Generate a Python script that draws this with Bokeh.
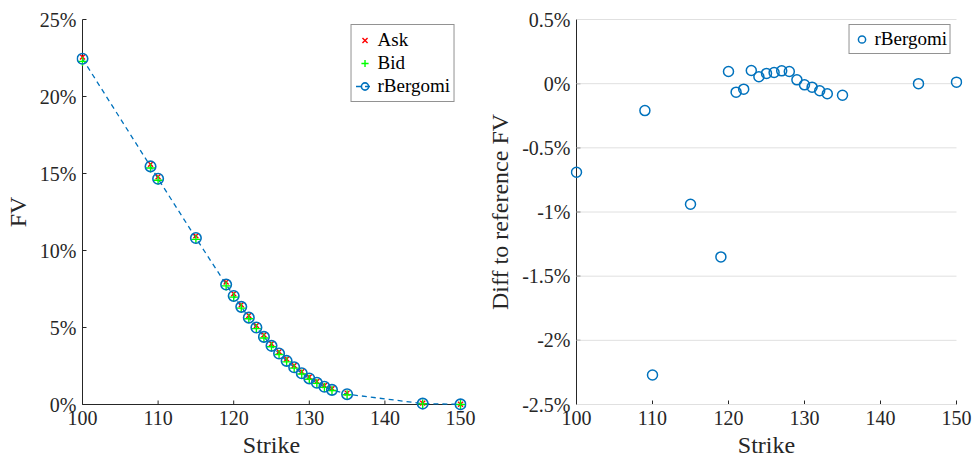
import math
from bokeh.plotting import figure
from bokeh.models import Range1d, FixedTicker, CustomJSTickFormatter, Legend, LegendItem
from bokeh.layouts import row
from bokeh.embed import file_html
from bokeh.resources import INLINE

# ---------------- data ----------------
strikes = [100, 109, 110, 115, 119, 120, 121, 122, 123, 124, 125, 126, 127, 128,
           129, 130, 131, 132, 133, 135, 145, 150]
fv_ask = [22.57, 15.60, 14.79, 10.95, 7.95, 7.19, 6.48, 5.78, 5.13, 4.52, 3.94, 3.43,
          2.95, 2.53, 2.13, 1.79, 1.50, 1.23, 1.03, 0.74, 0.09, 0.02]
fv_bid = [22.28, 15.36, 14.56, 10.72, 7.70, 6.97, 6.26, 5.57, 4.93, 4.32, 3.75, 3.25,
          2.77, 2.36, 1.98, 1.64, 1.37, 1.11, 0.91, 0.63, 0.04, 0.00]
fv_model = [22.45, 15.46, 14.66, 10.81, 7.79, 7.05, 6.34, 5.64, 5.00, 4.39, 3.81, 3.31,
            2.83, 2.42, 2.03, 1.69, 1.41, 1.15, 0.95, 0.67, 0.06, 0.01]
diff_model = [-0.69, -0.21, -2.27, -0.94, -1.35, 0.095, -0.066, -0.043, 0.103, 0.054,
              0.080, 0.087, 0.100, 0.095, 0.030, -0.009, -0.027, -0.055, -0.079, -0.090,
              0.000, 0.012]

x_limits = (100, 150)
x_ticks = [100, 110, 120, 130, 140, 150]
left_limits = (0, 25)
left_ticks = [0, 5, 10, 15, 20, 25]
right_limits = (-2.5, 0.5)
right_ticks = [-2.5, -2, -1.5, -1, -0.5, 0, 0.5]

FONT = "Liberation Serif"
AX = "#262626"
BLUE = "#0072BD"
PAD = 6          # px of frame beyond the axes so edge markers are not clipped
INNER_W_L, INNER_W_R, INNER_H = 378, 380, 385


def padded(lim, inner):
    span = lim[1] - lim[0]
    d = PAD * span / inner
    return Range1d(lim[0] - d, lim[1] + d)


def make_fig(width, inner_w, ylim, yticks, ylabel, border_left, border_right):
    p = figure(width=width, height=463, output_backend="svg", toolbar_location=None,
               x_range=padded(x_limits, inner_w), y_range=padded(ylim, INNER_H),
               min_border_left=border_left, min_border_right=border_right,
               min_border_top=13, min_border_bottom=53)
    p.outline_line_color = None
    p.xgrid.visible = False
    p.ygrid.visible = False
    p.background_fill_color = "white"
    p.border_fill_color = "white"

    xa = p.xaxis[0]
    ya = p.yaxis[0]
    xa.ticker = FixedTicker(ticks=x_ticks)
    ya.ticker = FixedTicker(ticks=yticks)
    xa.axis_label = "Strike"
    ya.axis_label = ylabel
    ya.formatter = CustomJSTickFormatter(code="return tick + '%';")
    for a in (xa, ya):
        a.axis_line_color = None
        a.major_tick_line_color = None
        a.minor_tick_line_color = None
        a.major_tick_in = 0
        a.major_tick_out = 0
        a.major_label_text_font = FONT
        a.major_label_text_font_size = "20px"
        a.major_label_text_color = AX
        a.axis_label_text_font = FONT
        a.axis_label_text_font_size = "24px"
        a.axis_label_text_font_style = "normal"
        a.axis_label_text_color = AX
    xa.major_label_standoff = 0
    xa.axis_label_standoff = 4
    ya.major_label_standoff = 0
    ya.axis_label_standoff = 6

    # axis lines and inward ticks drawn at the true limits
    p.segment(x0=[x_limits[0], x_limits[0]], y0=[ylim[0], ylim[0]],
              x1=[x_limits[1], x_limits[0]], y1=[ylim[0], ylim[1]],
              line_color=AX, line_width=1, level="underlay")
    p.ray(x=x_ticks, y=[ylim[0]] * len(x_ticks), length=4, length_units="screen",
          angle=math.pi / 2, line_color=AX, line_width=1, level="underlay")
    p.ray(x=[x_limits[0]] * len(yticks), y=yticks, length=4, length_units="screen",
          angle=0, line_color=AX, line_width=1, level="underlay")
    return p


def style_legend(leg, glyph_w, spacing, padding):
    leg.location = "top_right"
    leg.margin = 11
    leg.padding = padding
    leg.spacing = spacing
    leg.glyph_width = glyph_w
    leg.glyph_height = 20
    leg.label_height = 20
    leg.label_standoff = 4
    leg.label_text_font = FONT
    leg.label_text_font_size = "19px"
    leg.label_text_color = "#000000"
    leg.border_line_color = AX
    leg.border_line_width = 1
    leg.background_fill_color = "white"
    leg.background_fill_alpha = 1


# ---------------- left panel ----------------
p1 = make_fig(484, INNER_W_L, left_limits, left_ticks, "FV", 76, 18)

line_r = p1.line(strikes, fv_model, line_color=BLUE, line_width=1.3, line_dash="5 4")
ask_r = p1.scatter(strikes, fv_ask, marker="x", size=7, line_color="#FF0000", line_width=1.4)
bid_r = p1.scatter(strikes, fv_bid, marker="cross", size=9, line_color="#00FF00", line_width=1.4)
circ_r = p1.scatter(strikes, fv_model, marker="circle", size=10.5, line_color=BLUE,
                    fill_color=None, line_width=1.6)

leg1 = Legend(items=[LegendItem(label="Ask", renderers=[ask_r]),
                     LegendItem(label="Bid", renderers=[bid_r]),
                     LegendItem(label="rBergomi", renderers=[line_r, circ_r])])
style_legend(leg1, 18, 1, 4)
p1.add_layout(leg1, "center")

# ---------------- right panel ----------------
p2 = make_fig(491, INNER_W_R, right_limits, right_ticks, "Diff to reference FV", 86, 13)

p2.segment(x0=[x_limits[0]] * len(right_ticks), y0=right_ticks,
           x1=[x_limits[1]] * len(right_ticks), y1=right_ticks,
           line_color="#e0e0e0", line_width=1, level="underlay")
circ2 = p2.scatter(strikes, diff_model, marker="circle", size=10, line_color=BLUE,
                   fill_color=None, line_width=1.5)
leg2 = Legend(items=[LegendItem(label="rBergomi", renderers=[circ2])])
style_legend(leg2, 18, 0, 3)
p2.add_layout(leg2, "center")

layout = row(p1, p2)
open("out.html", "w").write(file_html(layout, INLINE))
